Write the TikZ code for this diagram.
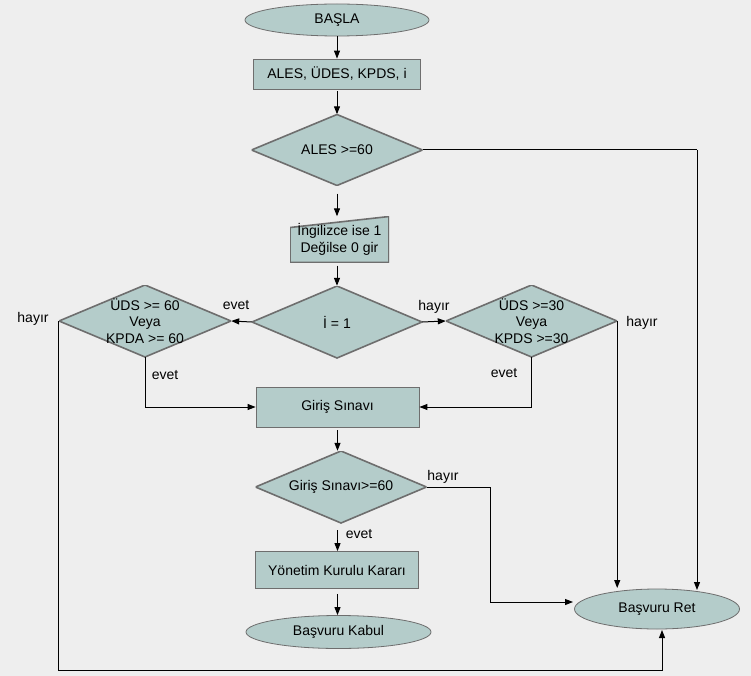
\documentclass[tikz,border=0pt]{standalone}
\usepackage{fontspec}
\setmainfont{Liberation Sans}
\usetikzlibrary{shapes.geometric,arrows.meta,calc}
\definecolor{bgc}{HTML}{EEEEEE}
\definecolor{boxfill}{HTML}{B4CCCA}
\definecolor{boxline}{HTML}{6E6E6E}
\begin{document}
\begin{tikzpicture}[x=1pt,y=-1pt,
  every node/.style={font=\fontsize{14}{16.5}\selectfont, inner sep=0pt, align=center},
  term/.style={ellipse, draw=boxline, fill=boxfill, line width=0.8pt},
  proc/.style={rectangle, draw=boxline, fill=boxfill, line width=0.8pt},
  dec/.style={rectangle, path picture={
      \fill[boxfill, draw=boxline, line width=1.6pt]
        (path picture bounding box.west) -- (path picture bounding box.north)
        -- (path picture bounding box.east) -- (path picture bounding box.south) -- cycle;}},
  minp/.style={rectangle, path picture={
      \fill[boxfill, draw=boxline, line width=1.6pt]
        (path picture bounding box.south west) -- (path picture bounding box.south east)
        -- (path picture bounding box.north east)
        -- ($(path picture bounding box.north west)+(0,11)$) -- cycle;}},
  conn/.style={line width=1pt, black},
  arr/.style={conn, -{Triangle[length=8pt,width=6pt]}},
  lbl/.style={font=\fontsize{14}{16}\selectfont}
]
\fill[bgc] (0,0) rectangle (751,676);
\useasboundingbox (0,0) rectangle (751,676);

% nodes
\node[term, minimum width=184pt, minimum height=32pt] (start) at (337,20) {BAŞLA};
\node[proc, minimum width=167pt, minimum height=30pt] (in1) at (337,74) {ALES, ÜDES, KPDS, i};
\node[dec, minimum width=171pt, minimum height=71pt] (ales) at (337,150) {ALES >=60};
\node[minp, minimum width=99pt, minimum height=46pt] (ing) at (339.5,239.5) {İngilizce ise 1\\Değilse 0 gir};
\node[dec, minimum width=170pt, minimum height=72pt] (i1) at (337,322) {İ = 1};
\node[dec, minimum width=172pt, minimum height=72pt] (ld) at (145,321) {ÜDS >= 60\\Veya\\KPDA >= 60};
\node[dec, minimum width=171pt, minimum height=72pt] (rd) at (531.5,321) {ÜDS >=30\\Veya\\KPDS >=30};
\node[proc, minimum width=163pt, minimum height=40pt] (gs) at (337.5,407) {Giriş Sınavı};
\node[dec, minimum width=171pt, minimum height=72pt] (gsd) at (341,487) {Giriş Sınavı>=60};
\node[proc, minimum width=163pt, minimum height=37pt] (yk) at (337,570) {Yönetim Kurulu Kararı};
\node[term, minimum width=185pt, minimum height=33pt] (kabul) at (338.5,632) {Başvuru Kabul};
\node[term, minimum width=165pt, minimum height=40pt] (ret) at (657,609) {Başvuru Ret};

% labels
\node[lbl] (l1) at (236,305) {evet};
\node[lbl] (l2) at (33,319) {hayır};
\node[lbl] (l3) at (165,375) {evet};
\node[lbl] (l4) at (434,307) {hayır};
\node[lbl] (l5) at (642,323) {hayır};
\node[lbl] (l6) at (504,373) {evet};
\node[lbl] (l7) at (443,477) {hayır};
\node[lbl] (l8) at (359,534) {evet};

% helper coordinates
\coordinate (retA) at (697,590);
\coordinate (retB) at (616,588);
\coordinate (retL) at (573,602);
\coordinate (retC) at (662,630);
\coordinate (bot) at (662,670);
\coordinate (jog) at (490,487);

% connectors
\draw[arr] (start.south) -- (in1.north);
\draw[arr, shorten <=2pt] (in1.south) -- (ales.north);
\draw[arr, shorten <=8pt] (ales.south) -- (ales.south |- ing.north);
\draw[arr, shorten <=3pt] (ales.south |- ing.south) -- (i1.north);
\draw[arr] (i1.west) -- (ld.east);
\draw[arr] (i1.east) -- (rd.west);
\draw[arr] (ld.south) |- (gs.west);
\draw[arr] (rd.south) |- (gs.east);
\draw[arr, shorten <=3pt] (gs.south) -- (gs.south |- gsd.north);
\draw[arr, shorten <=7pt] (gs.south |- gsd.south) -- (gs.south |- yk.north);
\draw[arr, shorten <=5pt] (gs.south |- yk.south) -- (gs.south |- kabul.north);
\draw[conn] (ales.east) -| (retA |- ales.east);
\draw[arr] (retA |- ales.east) -- (retA);
\draw[arr] (rd.east) -- (rd.east |- retB);
\draw[arr] (gsd.east) -- (jog) |- (retL);
\draw[arr] (ld.west) |- (bot) -- (retC);
\end{tikzpicture}
\end{document}
